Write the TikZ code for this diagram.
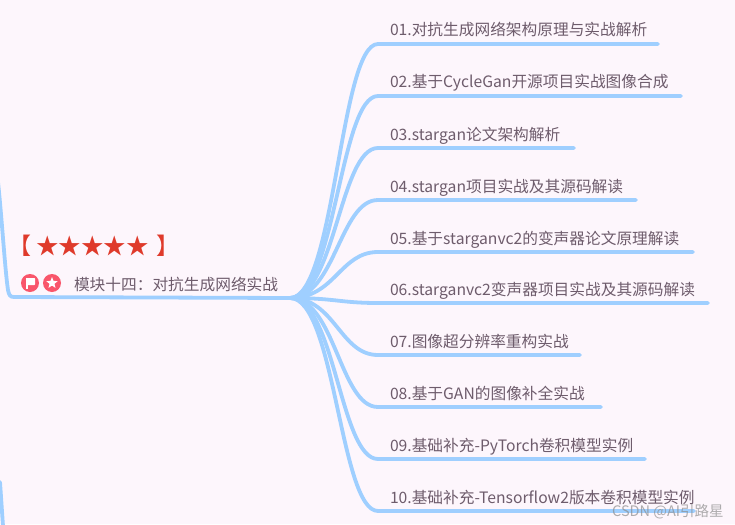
\documentclass[tikz,border=0pt]{standalone}
\usepackage{fontspec}
\usetikzlibrary{shapes.geometric}
\setmainfont{Noto Sans CJK SC}
\definecolor{bgc}{HTML}{FDF6FC}
\definecolor{branch}{HTML}{9FCFFF}
\definecolor{txt}{HTML}{6E5C6C}
\definecolor{redc}{HTML}{DF3A2B}
\definecolor{pinkc}{HTML}{F9566B}
\tikzset{
  x=1pt,y=-1pt,
  branchline/.style={draw=branch,line width=3.8pt,line cap=round,line join=round},
  topic/.style={anchor=base west,inner sep=0pt,outer sep=0pt,text=txt,font=\fontsize{15.7pt}{18pt}\selectfont},
  badge/.style={circle,fill=pinkc,minimum size=18pt,inner sep=0pt},
}
\begin{document}
\begin{tikzpicture}
\useasboundingbox (0,0) rectangle (735,524);
\fill[bgc] (0,0) rectangle (735,524);
\coordinate (hub) at (290,298);
\coordinate (ltop) at (-2,182);
\coordinate (lcorner) at (14,297);
\coordinate (lowa) at (0,482);
\coordinate (lowb) at (3,526);
\draw[branchline] (ltop) .. controls (2,220) and (5,270) .. (8,290) .. controls (9,295) and (10,297) .. (lcorner) -- (hub);
\draw[branchline] (lowa) -- (lowb);
\foreach \n/\y/\xe/\t in {
 a/44/658/01.对抗生成网络架构原理与实战解析,
 b/96/681/02.基于CycleGan开源项目实战图像合成,
 c/148/574/03.stargan论文架构解析,
 d/200/636/04.stargan项目实战及其源码解读,
 e/252/693/05.基于starganvc2的变声器论文原理解读,
 f/303/708/06.starganvc2变声器项目实战及其源码解读,
 g/355/580/07.图像超分辨率重构实战,
 h/407/601/08.基于GAN的图像补全实战,
 i/459/645/09.基础补充-PyTorch卷积模型实例,
 j/511/694/10.基础补充-Tensorflow2版本卷积模型实例}{
  \coordinate (s\n) at (378,\y);
  \coordinate (t\n) at (\xe,\y);
  \node[topic] (l\n) at (390,\y-8) {\t};
  \draw[branchline] (hub) .. controls (335,298) and (340,\y) .. (s\n) -- (t\n);
}
\node[anchor=base west,inner sep=0pt,text=redc,font=\fontsize{23pt}{26pt}\selectfont] (stars) at (8,254) {【\hspace{5pt}{\fontsize{22.5pt}{26pt}\selectfont ★★★★★}\hspace{8pt}】};
\node[badge] (flag) at (30,283) {};
\node[badge] (fav) at (52,283) {};
\fill[white,rounded corners=0.6pt] (26,278) rectangle (35,285);
\fill[white] (26,278) rectangle (27.6,289);
\node[star,star points=5,star point ratio=2.3,fill=white,minimum size=12pt,inner sep=0pt] (favstar) at (52,283) {};
\node[topic] (root) at (74,290) {模块十四\symbol{"FF1A}对抗生成网络实战};
\node[anchor=base west,inner sep=0pt,text=black!45,opacity=0.7,font=\fontsize{14.5pt}{16pt}\selectfont] (mark) at (612,516) {CSDN @AI引路星};
\end{tikzpicture}
\end{document}
